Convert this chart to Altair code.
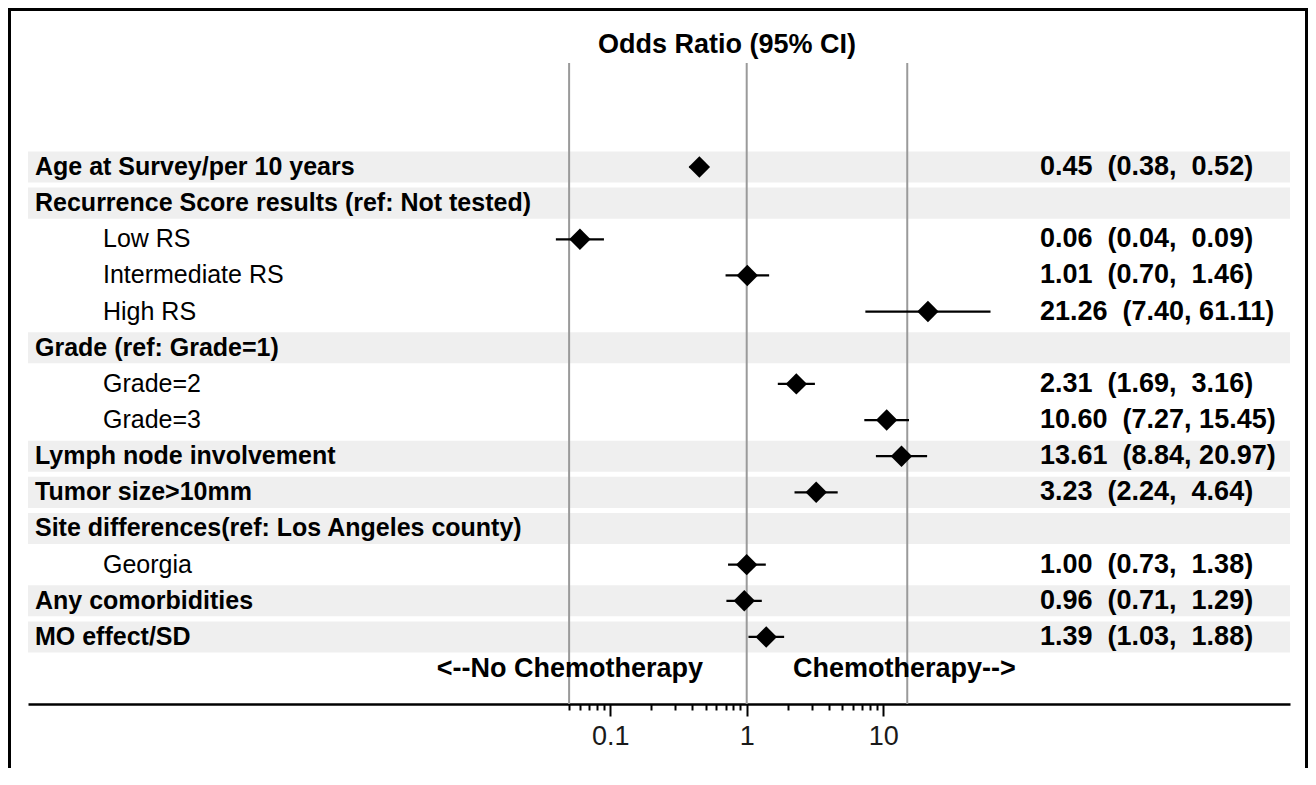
import altair as alt
import pandas as pd

# ---------------- data ----------------
row_labels = [
    "Age at Survey/per 10 years",
    "Recurrence Score results (ref: Not tested)",
    "Low RS",
    "Intermediate RS",
    "High RS",
    "Grade (ref: Grade=1)",
    "Grade=2",
    "Grade=3",
    "Lymph node involvement",
    "Tumor size>10mm",
    "Site differences(ref: Los Angeles county)",
    "Georgia",
    "Any comorbidities",
    "MO effect/SD",
]
row_level = [0, 0, 1, 1, 1, 0, 1, 1, 0, 0, 0, 1, 0, 0]
odds_ratio = [0.45, None, 0.06, 1.01, 21.26, None, 2.31, 10.60, 13.61, 3.23, None, 1.00, 0.96, 1.39]
ci_low = [0.38, None, 0.04, 0.70, 7.40, None, 1.69, 7.27, 8.84, 2.24, None, 0.73, 0.71, 1.03]
ci_high = [0.52, None, 0.09, 1.46, 61.11, None, 3.16, 15.45, 20.97, 4.64, None, 1.38, 1.29, 1.88]

ref_lines = [0.05, 1, 15]
major_ticks = [0.1, 1, 10]
minor_ticks = [0.05, 0.06, 0.07, 0.08, 0.09,
               0.2, 0.3, 0.4, 0.5, 0.6, 0.7, 0.8, 0.9,
               2, 3, 4, 5, 6, 7, 8, 9]
title_text = "Odds Ratio (95% CI)"
left_text = "<--No Chemotherapy"
right_text = "Chemotherapy-->"

# ---------------- table ----------------
NB = "\u00a0"


def fmt(o, l, h):
    if o is None:
        return ""
    s = f"{o:.2f}  ({l:.2f}, {h:5.2f})"
    return s.replace(" ", NB)


df = pd.DataFrame({
    "label": row_labels,
    "level": row_level,
    "or": odds_ratio,
    "lo": ci_low,
    "hi": ci_high,
})
df["row"] = range(len(df))
df["blo"] = df["row"] - 0.43
df["bhi"] = df["row"] + 0.43
df["txt"] = [fmt(o, l, h) for o, l, h in zip(odds_ratio, ci_low, ci_high)]

W, H = 1262, 696
FONT = "Liberation Sans"

xscale = alt.Scale(type="log", domain=[10 ** -5.265, 10 ** 3.98], nice=False, clamp=False)
yscale = alt.Scale(domain=[-4.398, 14.855], reverse=True, nice=False, zero=False)

all_ticks = sorted(minor_ticks + major_ticks)
major_test = " || ".join(f"datum.value == {v}" for v in major_ticks)

xaxis = alt.Axis(
    values=all_ticks,
    labelExpr=f"({major_test}) ? format(datum.value, '~g') : ''",
    title=None,
    grid=False,
    domainColor="black",
    domainWidth=2.5,
    tickColor="black",
    tickWidth=2,
    tickSize={"condition": {"test": major_test, "value": 12}, "value": 6},
    labelFont=FONT,
    labelFontSize=27,
    labelColor="#1a1a1a",
    labelPadding=7,
    labelFlush=False,
    labelOverlap=False,
)

base = alt.Chart(df)

bands = base.transform_filter("datum.level == 0").mark_rect(color="#efefef").encode(
    x=alt.value(0), x2=alt.value(W),
    y=alt.Y("blo:Q", scale=yscale, axis=None), y2="bhi:Q",
)

refs = alt.Chart(pd.DataFrame({"ref": ref_lines})).mark_rule(
    color="#9a9a9a", strokeWidth=2
).encode(
    x=alt.X("ref:Q", scale=xscale, axis=xaxis),
    y=alt.value(55), y2=alt.value(H),
)

ci = base.transform_filter("isValid(datum.or)").mark_rule(color="black", strokeWidth=2.2).encode(
    x=alt.X("lo:Q", scale=xscale), x2="hi:Q",
    y=alt.Y("row:Q", scale=yscale),
)

pts = base.transform_filter("isValid(datum.or)").mark_point(
    shape="diamond", filled=True, size=460, color="black", opacity=1
).encode(
    x=alt.X("or:Q", scale=xscale),
    y=alt.Y("row:Q", scale=yscale),
)

lab0 = base.transform_filter("datum.level == 0").mark_text(
    align="left", baseline="middle", font=FONT, fontSize=25, fontWeight="bold", color="black"
).encode(x=alt.value(7), y=alt.Y("row:Q", scale=yscale), text="label:N")

lab1 = base.transform_filter("datum.level == 1").mark_text(
    align="left", baseline="middle", font=FONT, fontSize=25, fontWeight="normal", color="black"
).encode(x=alt.value(75), y=alt.Y("row:Q", scale=yscale), text="label:N")

vals = base.transform_filter("isValid(datum.or)").mark_text(
    align="left", baseline="middle", font=FONT, fontSize=27, fontWeight="bold", color="black"
).encode(x=alt.value(1012), y=alt.Y("row:Q", scale=yscale), text="txt:N")


def annot(txt, x, y, align, size):
    return alt.Chart(pd.DataFrame({"t": [txt]})).mark_text(
        align=align, baseline="middle", font=FONT, fontSize=size, fontWeight="bold", color="black"
    ).encode(x=alt.value(x), y=alt.value(y), text="t:N")


ttl = annot(title_text, 699, 37, "center", 27)
lft = annot(left_text, 675, 661, "right", 27)
rgt = annot(right_text, 765, 661, "left", 27)

one = pd.DataFrame({"a": [0]})
border_top = alt.Chart(one).mark_rule(color="black", strokeWidth=3).encode(
    x=alt.value(-19), x2=alt.value(W + 17), y=alt.value(1.5))
border_left = alt.Chart(one).mark_rule(color="black", strokeWidth=3).encode(
    x=alt.value(-18.5), y=alt.value(0), y2=alt.value(H + 64))
border_right = alt.Chart(one).mark_rule(color="black", strokeWidth=3).encode(
    x=alt.value(W + 16.5), y=alt.value(0), y2=alt.value(H + 64))

chart = alt.layer(
    bands, refs, ci, pts, lab0, lab1, vals, ttl, lft, rgt,
    border_top, border_left, border_right,
).properties(
    width=W, height=H,
    autosize="none",
    padding={"left": 20, "top": 0, "right": 18, "bottom": 64},
    background="white",
).configure_view(stroke=None)

chart.save("out.html", embed_options={"renderer": "svg", "actions": False})
